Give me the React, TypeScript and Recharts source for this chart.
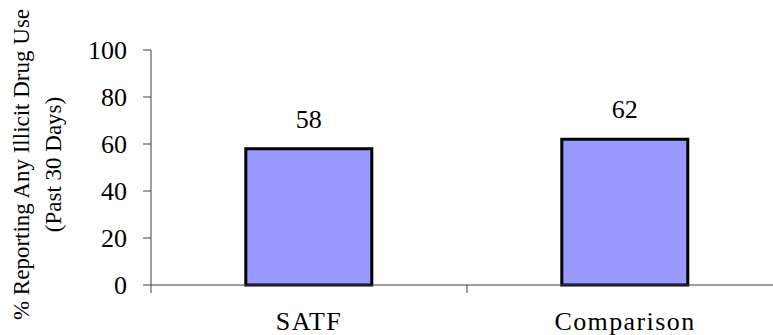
import React from "react";
import { BarChart, Bar, XAxis, YAxis, LabelList } from "recharts";

const groups = ["SATF", "Comparison"];
const drugUse = [58, 62];
const yTicks = [0, 20, 40, 60, 80, 100];
const yTitle = ["% Reporting Any Illicit Drug Use", "(Past 30 Days)"];

const data = groups.map((name, i) => ({ name, value: drugUse[i] }));

const FONT = "'Liberation Serif', 'Times New Roman', 'DejaVu Serif', serif";
const AXIS = "#404040";
const textStyle = { fontFamily: FONT };

// category label plus a tick mark on the boundary between categories
function GroupTick(props: any) {
  const { x, y, payload } = props;
  const half = payload.offset ?? 0;
  return (
    <g>
      <line x1={x - half} x2={x - half} y1={y} y2={y + 8} stroke={AXIS} />
      <text
        x={x}
        y={y + 45}
        textAnchor="middle"
        style={textStyle}
        fontSize={26}
        letterSpacing={1.4}
        fill="#000"
      >
        {payload.value}
      </text>
    </g>
  );
}

function YTitle(props: any) {
  const vb = props.viewBox || { y: 50, height: 235 };
  const cy = vb.y + vb.height / 2 - 3;
  return (
    <g style={textStyle} fontSize={23} fill="#000">
      <text x={29} y={cy} textAnchor="middle" transform={`rotate(-90, 29, ${cy})`}>
        {yTitle[0]}
      </text>
      <text x={61} y={cy} textAnchor="middle" transform={`rotate(-90, 61, ${cy})`}>
        {yTitle[1]}
      </text>
    </g>
  );
}

function ValueLabel(props: any) {
  const { x, y, width, value } = props;
  return (
    <text
      x={x + width / 2}
      y={y - 21}
      textAnchor="middle"
      style={textStyle}
      fontSize={26}
      fill="#000"
    >
      {value}
    </text>
  );
}

export default function App() {
  return (
    <div
      style={{
        position: "absolute",
        left: 0,
        top: 0,
        width: 773,
        height: 335,
        overflow: "hidden",
        background: "#fff",
        fontFamily: FONT,
      }}
    >
      <BarChart
        width={790}
        height={335}
        data={data}
        margin={{ top: 50, right: 7, bottom: 0, left: 0 }}
        barCategoryGap="30%"
        style={textStyle}
      >
        <XAxis
          dataKey="name"
          height={50}
          axisLine={{ stroke: AXIS }}
          tickLine={false}
          tickSize={0}
          tickMargin={0}
          tick={<GroupTick />}
          interval={0}
        />
        <YAxis
          width={151}
          domain={[0, 100]}
          ticks={yTicks}
          interval={0}
          axisLine={{ stroke: AXIS }}
          tickLine={{ stroke: AXIS }}
          tickSize={8}
          tickMargin={16}
          tick={{ style: textStyle, fontSize: 26, fill: "#000" }}
          label={{ content: <YTitle /> }}
        />
        <Bar
          dataKey="value"
          fill="#9999FF"
          stroke="#000"
          strokeWidth={3}
          isAnimationActive={false}
        >
          <LabelList dataKey="value" content={<ValueLabel />} />
        </Bar>
      </BarChart>
    </div>
  );
}
